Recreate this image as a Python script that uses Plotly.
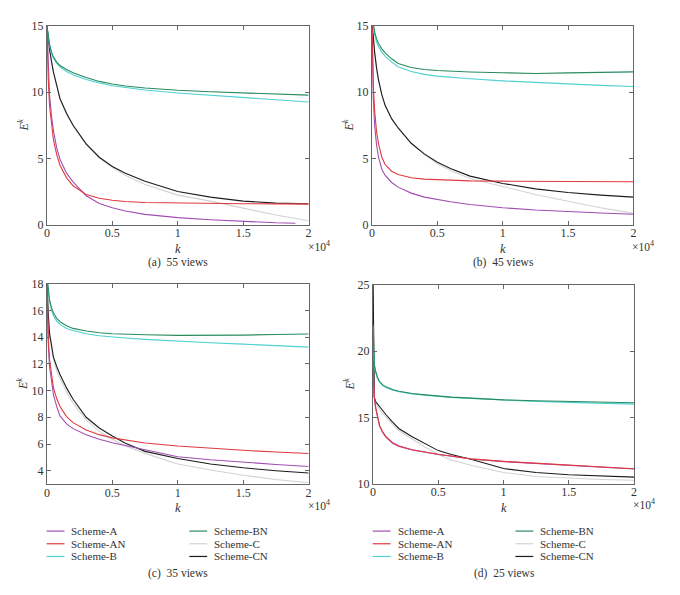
import plotly.graph_objects as go

# ---------------- data ----------------
K = [0, 50, 100, 200, 350, 500, 750, 1000, 1500, 2000, 3000, 4000, 5000,
     6000, 7500, 10000, 12500, 15000, 17500, 20000]
K_A55 = [0, 50, 100, 200, 350, 500, 750, 1000, 1500, 2000, 3000, 4000, 5000,
         6000, 7500, 10000, 12500, 15000, 17500, 19000]

SCHEMES = ["Scheme-A", "Scheme-AN", "Scheme-B", "Scheme-BN", "Scheme-C", "Scheme-CN"]
COLORS = ["#a24db3", "#e0393f", "#4fd0d2", "#2a8a5e", "#d2d2d2", "#1c1c1c"]

X_TICKVALS = [0, 5000, 10000, 15000, 20000]
X_TICKTEXT = ["0", "0.5", "1", "1.5", "2"]

CAPTIONS = ["(a)  55 views", "(b)  45 views", "(c)  35 views", "(d)  25 views"]

# (a) 55 views
A55 = [15, 13.2, 11.8, 9.8, 8.2, 7.1, 5.8, 4.95, 3.9, 3.25, 2.2, 1.62, 1.3, 1.05, 0.8, 0.56, 0.4, 0.27, 0.17, 0.14]
AN55 = [15, 12.8, 11.0, 9.0, 7.4, 6.4, 5.3, 4.5, 3.55, 2.95, 2.3, 2.02, 1.86, 1.77, 1.7, 1.65, 1.62, 1.6, 1.59, 1.59]
B55 = [15, 14.5, 14.1, 13.5, 12.9, 12.55, 12.15, 11.9, 11.55, 11.3, 10.95, 10.68, 10.47, 10.32, 10.15, 9.93, 9.75, 9.59, 9.42, 9.25]
BN55 = [15, 14.6, 14.2, 13.6, 13.0, 12.65, 12.25, 12.0, 11.7, 11.45, 11.1, 10.8, 10.6, 10.45, 10.3, 10.13, 10.02, 9.92, 9.84, 9.77]
C55 = [15, 14.5, 14.0, 13.2, 12.3, 11.5, 10.5, 9.5, 8.3, 7.45, 6.05, 5.05, 4.35, 3.75, 3.05, 2.25, 1.8, 1.25, 0.75, 0.32]
CN55 = [15, 14.5, 14.0, 13.2, 12.3, 11.5, 10.5, 9.5, 8.4, 7.5, 6.1, 5.1, 4.4, 3.9, 3.3, 2.52, 2.1, 1.8, 1.65, 1.59]

# (b) 45 views
A45 = [15.3, 11.5, 9.5, 7.5, 6.0, 5.1, 4.2, 3.75, 3.2, 2.85, 2.4, 2.1, 1.91, 1.75, 1.55, 1.3, 1.13, 1.0, 0.9, 0.81]
AN45 = [15.3, 12.2, 10.5, 8.6, 7.0, 6.1, 5.1, 4.55, 4.05, 3.8, 3.56, 3.45, 3.4, 3.36, 3.32, 3.3, 3.28, 3.27, 3.26, 3.25]
B45 = [15.6, 15.2, 14.85, 14.3, 13.75, 13.4, 13.0, 12.7, 12.25, 11.9, 11.55, 11.33, 11.2, 11.1, 11.0, 10.84, 10.72, 10.6, 10.5, 10.42]
BN45 = [15.8, 15.4, 15.05, 14.55, 14.0, 13.65, 13.25, 12.95, 12.5, 12.15, 11.85, 11.7, 11.62, 11.57, 11.51, 11.45, 11.4, 11.44, 11.48, 11.52]
C45 = [15.3, 14.7, 14.1, 13.0, 11.8, 10.9, 9.8, 9.0, 8.0, 7.3, 6.15, 5.3, 4.6, 4.1, 3.5, 2.89, 2.3, 1.79, 1.3, 0.88]
CN45 = [15.3, 14.7, 14.1, 13.0, 11.8, 10.9, 9.8, 9.0, 8.0, 7.3, 6.15, 5.35, 4.72, 4.25, 3.68, 3.13, 2.72, 2.45, 2.25, 2.1]

# (c) 35 views
A35 = [18.3, 15.2, 13.6, 11.8, 10.5, 9.7, 8.8, 8.1, 7.5, 7.15, 6.7, 6.35, 6.1, 5.9, 5.55, 5.05, 4.82, 4.63, 4.47, 4.32]
AN35 = [18.3, 15.5, 14.0, 12.3, 11.0, 10.2, 9.4, 8.8, 8.05, 7.6, 7.05, 6.7, 6.46, 6.3, 6.08, 5.85, 5.68, 5.53, 5.4, 5.29]
B35 = [18.6, 17.9, 17.4, 16.7, 16.0, 15.6, 15.2, 14.95, 14.65, 14.5, 14.25, 14.1, 14.0, 13.93, 13.83, 13.69, 13.58, 13.47, 13.36, 13.25]
BN35 = [18.6, 18.0, 17.5, 16.8, 16.2, 15.8, 15.4, 15.15, 14.85, 14.65, 14.45, 14.32, 14.25, 14.2, 14.17, 14.13, 14.13, 14.15, 14.19, 14.23]
C35 = [18.5, 16.8, 15.6, 14.1, 13.0, 12.3, 11.5, 10.9, 9.9, 9.05, 7.8, 6.95, 6.35, 5.85, 5.3, 4.51, 4.05, 3.66, 3.35, 3.1]
CN35 = [18.5, 17.0, 15.8, 14.3, 13.2, 12.5, 11.8, 11.2, 10.2, 9.35, 8.0, 7.2, 6.6, 6.05, 5.45, 4.92, 4.5, 4.22, 4.0, 3.83]

# (d) 25 views
A25 = [19.1, 17.4, 16.5, 15.7, 14.9, 14.35, 13.85, 13.5, 13.05, 12.82, 12.55, 12.36, 12.21, 12.08, 11.87, 11.67, 11.53, 11.4, 11.26, 11.11]
AN25 = [19.2, 17.5, 16.6, 15.8, 15.0, 14.4, 13.9, 13.55, 13.09, 12.85, 12.57, 12.38, 12.23, 12.1, 11.88, 11.69, 11.55, 11.42, 11.28, 11.13]
B25 = [21.9, 19.9, 18.9, 18.4, 17.9, 17.65, 17.4, 17.25, 17.05, 16.93, 16.77, 16.67, 16.58, 16.51, 16.43, 16.3, 16.2, 16.13, 16.07, 16.0]
BN25 = [22.0, 20.0, 19.0, 18.5, 18.0, 17.7, 17.45, 17.3, 17.1, 16.97, 16.8, 16.7, 16.6, 16.53, 16.45, 16.32, 16.25, 16.2, 16.15, 16.1]
C25 = [26, 16.8, 16.4, 16.1, 15.85, 15.6, 15.3, 15.0, 14.45, 14.0, 13.35, 12.75, 12.2, 11.8, 11.4, 10.85, 10.55, 10.42, 10.33, 10.27]
CN25 = [26, 16.8, 16.5, 16.2, 16.0, 15.8, 15.5, 15.2, 14.65, 14.15, 13.55, 13.0, 12.5, 12.2, 11.85, 11.15, 10.85, 10.68, 10.58, 10.5]

Y_TICKS = [[0, 5, 10, 15], [0, 5, 10, 15], [4, 6, 8, 10, 12, 14, 16, 18], [10, 15, 20, 25]]
Y_RANGES = [[0, 15], [0, 15], [3, 18], [10, 25]]

PANELS = [
    {"A": A55, "AN": AN55, "B": B55, "BN": BN55, "C": C55, "CN": CN55},
    {"A": A45, "AN": AN45, "B": B45, "BN": BN45, "C": C45, "CN": CN45},
    {"A": A35, "AN": AN35, "B": B35, "BN": BN35, "C": C35, "CN": CN35},
    {"A": A25, "AN": AN25, "B": B25, "BN": BN25, "C": C25, "CN": CN25},
]

# ---------------- layout geometry (pixels) ----------------
W, H = 680, 595
# left, right, top, bottom of each plot box
BOXES = [(44.3, 308.3, 19.0, 223.3), (372.3, 636.0, 19.0, 223.3),
         (44.3, 308.3, 283.3, 488.6), (373.3, 636.7, 284.3, 488.3)]

FONT = "Liberation Serif"
TXT = "#333333"
AX = "#666666"

fig = go.Figure()

draw_order = ["C", "CN", "B", "BN", "A", "AN"]
for p, data in enumerate(PANELS):
    xa = "x" if p == 0 else f"x{p+1}"
    ya = "y" if p == 0 else f"y{p+1}"
    for key in draw_order:
        i = SCHEMES.index("Scheme-" + key)
        kk = K_A55 if (p == 0 and key == "A") else K
        fig.add_trace(go.Scatter(
            x=kk, y=data[key], mode="lines", name=SCHEMES[i],
            line=dict(color=COLORS[i], width=1.1),
            xaxis=xa, yaxis=ya, showlegend=False, hoverinfo="skip"))

layout = dict(width=W, height=H, margin=dict(l=0, r=0, t=0, b=0),
              paper_bgcolor="white", plot_bgcolor="white", showlegend=False,
              font=dict(family=FONT, size=11, color=TXT))

annotations = []
shapes = []
for p, (l, r, t, b) in enumerate(BOXES):
    sx = "" if p == 0 else str(p + 1)
    layout["xaxis" + sx] = dict(
        domain=[l / W, r / W], range=[0, 20000], anchor="y" + sx,
        tickvals=X_TICKVALS, ticktext=X_TICKTEXT, ticks="inside", ticklen=4,
        tickcolor=AX, showline=True, linecolor=AX, linewidth=1, mirror="ticks",
        ticklabelstandoff=-3,
        showgrid=False, zeroline=False, tickfont=dict(family=FONT, size=12, color=TXT))
    layout["yaxis" + sx] = dict(
        domain=[1 - b / H, 1 - t / H], range=Y_RANGES[p], anchor="x" + sx,
        tickvals=Y_TICKS[p], ticks="inside", ticklen=4,
        tickcolor=AX, showline=True, linecolor=AX, linewidth=1, mirror="ticks",
        showgrid=False, zeroline=False, tickfont=dict(family=FONT, size=12, color=TXT))
    cx = (l + r) / 2
    # x label
    annotations.append(dict(text="<i>k</i>", x=cx / W, y=1 - (b + 24.5) / H,
                            xref="paper", yref="paper", showarrow=False,
                            xanchor="center", yanchor="middle",
                            font=dict(family=FONT, size=12.5, color=TXT)))
    # x10^4
    annotations.append(dict(text="×10<sup>4</sup>", x=(r - 3) / W, y=1 - (b + 21) / H,
                            xref="paper", yref="paper", showarrow=False,
                            xanchor="left", yanchor="middle",
                            font=dict(family=FONT, size=11.5, color=TXT)))
    # y label
    annotations.append(dict(text="<i>E</i><sup><i>k</i></sup>", x=(l - 24) / W,
                            y=1 - ((t + b) / 2) / H, xref="paper", yref="paper",
                            showarrow=False, textangle=-90,
                            xanchor="center", yanchor="middle",
                            font=dict(family=FONT, size=12, color=TXT)))
    # caption
    cap_y = 262 if p < 2 else 580.5
    annotations.append(dict(text=CAPTIONS[p], x=(cx + 0.5) / W, y=1 - cap_y / H,
                            xref="paper", yref="paper", showarrow=False,
                            xanchor="center", yanchor="middle",
                            font=dict(family=FONT, size=11.5, color=TXT)))

# legends under (c) and (d)
LEG_ROWS = [536.7, 549.7, 562.7]
for left in (44.0, 373.0):
    for i, name in enumerate(SCHEMES):
        col, row = divmod(i, 3)
        x0 = left + col * 144
        y = LEG_ROWS[row]
        shapes.append(dict(type="line", xref="paper", yref="paper",
                           x0=x0 / W, x1=(x0 + 18) / W, y0=1 - y / H, y1=1 - y / H,
                           line=dict(color=COLORS[i], width=1.2)))
        annotations.append(dict(text=name, x=(x0 + 23) / W, y=1 - y / H,
                                xref="paper", yref="paper", showarrow=False,
                                xanchor="left", yanchor="middle",
                                font=dict(family=FONT, size=11, color=TXT)))

layout["annotations"] = annotations
layout["shapes"] = shapes
fig.update_layout(**layout)
fig.write_html("out.html", config={"displayModeBar": False},
               post_script="document.body.style.margin='0';document.body.style.overflow='hidden';")
